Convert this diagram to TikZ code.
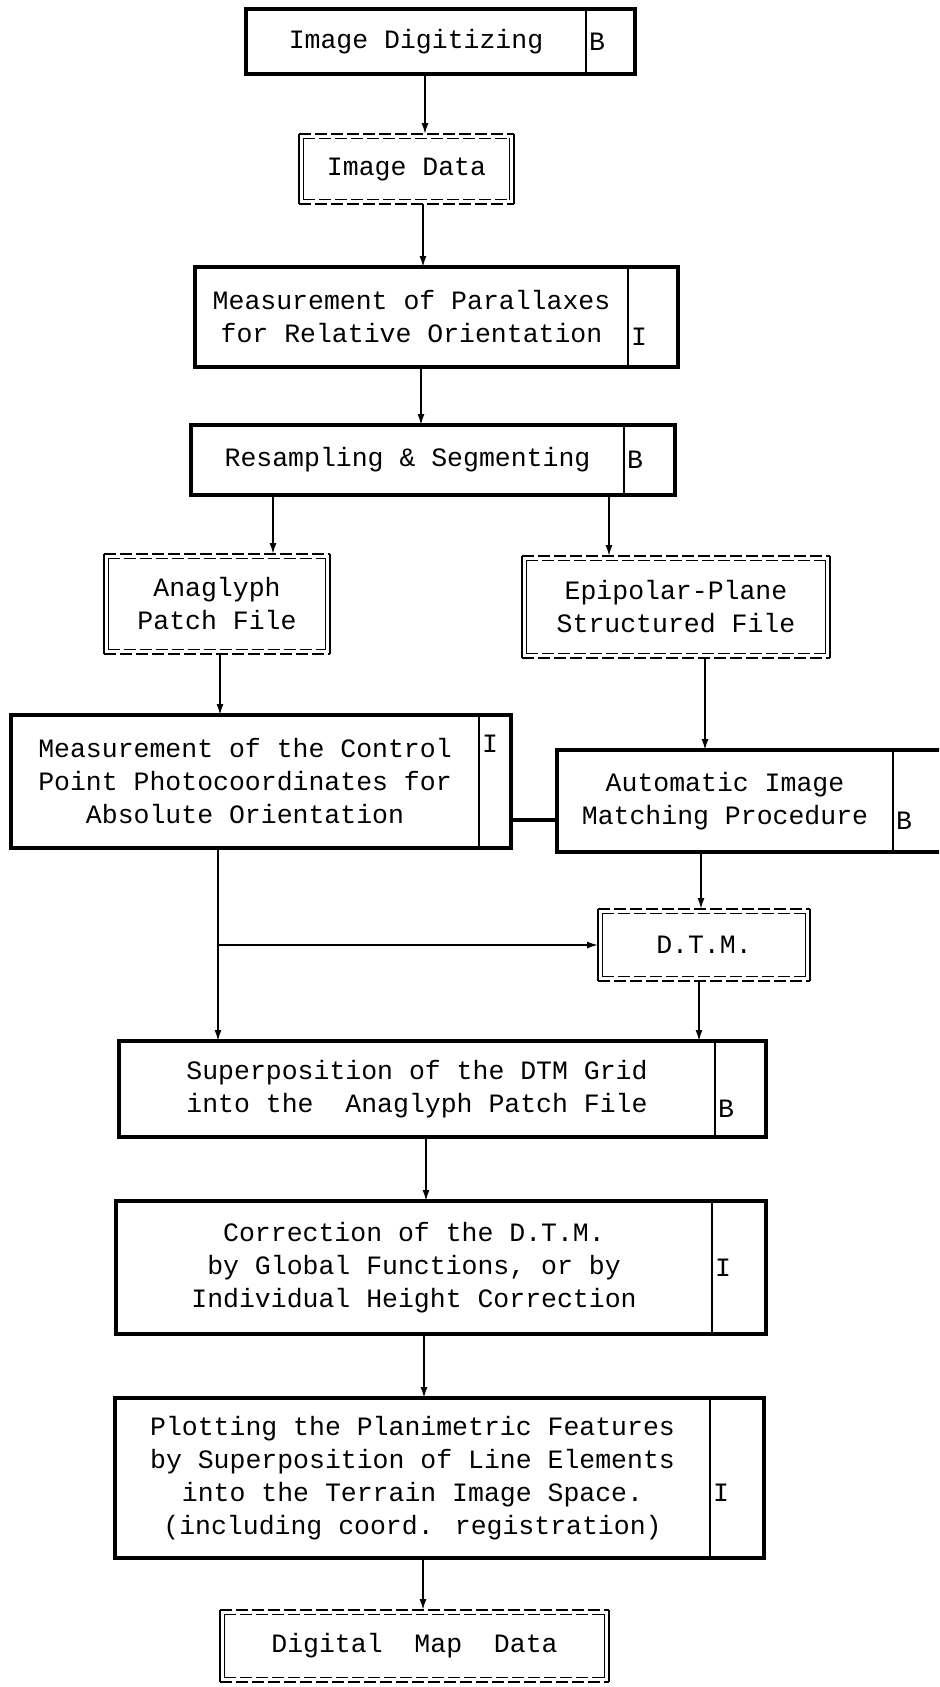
\documentclass[tikz,border=0pt]{standalone}
\usepackage{fontspec}
\setmainfont{Liberation Mono}
\usetikzlibrary{positioning,arrows.meta}
\tikzset{
	every node/.style={font=\fontsize{13.25pt}{16.5pt}\selectfont},
	procbox/.style={rectangle, align=center, inner sep=0pt, outer sep=0pt},
	tagbox/.style={rectangle, align=left, inner xsep=1.5pt, inner ysep=0pt, outer sep=0pt},
	filebox/.style={rectangle, align=center, inner sep=0pt, outer sep=0pt},
	frameline/.style={line width=1.7pt},
	divline/.style={line width=0.8pt},
	fileline/.style={line width=0.7pt},
	filedash/.style={dash pattern=on 6pt off 2pt},
	arr/.style={line width=0.8pt, -{Latex[length=5.5pt,width=3.5pt]}},
	joinline/.style={line width=1.8pt}
}
\newcommand{\procframe}[2]{%
	\draw[frameline] (#1.north west) rectangle (#2.south east);
	\draw[divline] (#2.north west) -- (#2.south west);
}
\newcommand{\fileframe}[1]{%
	\draw[fileline] (#1.north west) -- (#1.south west);
	\draw[fileline] (#1.north east) -- (#1.south east);
	\draw[fileline] ([shift={(2.2pt,-2.2pt)}]#1.north west) -- ([shift={(2.2pt,2.2pt)}]#1.south west);
	\draw[fileline] ([shift={(-2.2pt,-2.2pt)}]#1.north east) -- ([shift={(-2.2pt,2.2pt)}]#1.south east);
	\draw[fileline, filedash] (#1.north west) -- (#1.north east);
	\draw[fileline, filedash] ([shift={(2.2pt,-2.2pt)}]#1.north west) -- ([shift={(-2.2pt,-2.2pt)}]#1.north east);
	\draw[fileline, filedash] (#1.south west) -- (#1.south east);
	\draw[fileline, filedash] ([shift={(2.2pt,2.2pt)}]#1.south west) -- ([shift={(-2.2pt,2.2pt)}]#1.south east);
}

\begin{document}
\begin{tikzpicture}[x=0.5pt, y=0.5pt]
		\useasboundingbox (0, 0) rectangle (939, -1687);
		\clip (0, 0) rectangle (939, -1687);
		\node(dig)[procbox, minimum width=170pt, minimum height=32.5pt] at (416, -41.5) {Image Digitizing};
		\node(digtag)[tagbox, text width=21.5pt, minimum height=32.5pt, right=0pt of dig] {B};
		\node(imgdata)[filebox, minimum width=107.5pt, minimum height=35pt] at (406.5, -169) {Image Data};
		\node(para)[procbox, minimum width=216.5pt, minimum height=50pt] at (411.5, -317) {Measurement of Parallaxes\\for Relative Orientation};
		\node(paratag)[tagbox, text width=22pt, minimum height=50pt, right=0pt of para] {\strut\\I};
		\node(res)[procbox, minimum width=216.5pt, minimum height=35pt] at (407.5, -460) {Resampling \& Segmenting};
		\node(restag)[tagbox, text width=22.5pt, minimum height=35pt, right=0pt of res] {B};
		\node(anag)[filebox, minimum width=113pt, minimum height=50pt] at (217, -604) {Anaglyph\\Patch File};
		\node(epi)[filebox, minimum width=154pt, minimum height=51pt] at (676, -607) {Epipolar-Plane\\Structured File};
		\node(ctrl)[procbox, minimum width=234pt, minimum height=66.5pt] at (245, -781.5) {Measurement of the Control\\Point Photocoordinates for\\Absolute Orientation};
		\node(ctrltag)[tagbox, text width=13pt, minimum height=66.5pt, right=0pt of ctrl] {I\\\strut\\\strut};
		\node(auto)[procbox, minimum width=168pt, minimum height=51pt] at (725, -801) {Automatic Image\\Matching Procedure};
		\node(autotag)[tagbox, text width=27pt, minimum height=51pt, right=0pt of auto] {\strut\\B};
		\node(dtm)[filebox, minimum width=106pt, minimum height=36pt] at (704, -945) {D.T.M.};
		\node(sup)[procbox, minimum width=298pt, minimum height=48pt] at (417, -1089) {Superposition of the DTM Grid\\into the~~Anaglyph Patch File};
		\node(suptag)[tagbox, text width=22.5pt, minimum height=48pt, right=0pt of sup] {\strut\\B};
		\node(corr)[procbox, minimum width=298pt, minimum height=66.5pt] at (414, -1267.5) {Correction of the D.T.M.\\by Global Functions, or by\\Individual Height Correction};
		\node(corrtag)[tagbox, text width=24pt, minimum height=66.5pt, right=0pt of corr] {I};
		\node(plot)[procbox, minimum width=297.5pt, minimum height=80pt] at (412.5, -1478) {Plotting the Planimetric Features\\by Superposition of Line Elements\\into the Terrain Image Space.\\(including coord. registration)};
		\node(plottag)[tagbox, text width=24pt, minimum height=80pt, right=0pt of plot] {\strut\\\strut\\I\\\strut};
		\node(map)[filebox, minimum width=194.5pt, minimum height=36pt] at (414.5, -1646) {Digital~~Map~~Data};
		\coordinate(br) at (218, -945);
		\procframe{dig}{digtag}
		\procframe{para}{paratag}
		\procframe{res}{restag}
		\procframe{ctrl}{ctrltag}
		\procframe{auto}{autotag}
		\procframe{sup}{suptag}
		\procframe{corr}{corrtag}
		\procframe{plot}{plottag}
		\fileframe{imgdata}
		\fileframe{anag}
		\fileframe{epi}
		\fileframe{dtm}
		\fileframe{map}
		\draw[arr] ([xshift=4.5pt]dig.south) -- ([xshift=9.25pt]imgdata.north);
		\draw[arr] ([xshift=8.25pt]imgdata.south) -- ([xshift=5.75pt]para.north);
		\draw[arr] ([xshift=4.75pt]para.south) -- ([xshift=6.75pt]res.north);
		\draw[arr] ([xshift=-67.25pt]res.south) -- ([xshift=28pt]anag.north);
		\draw[arr] ([xshift=100.75pt]res.south) -- ([xshift=-33.5pt]epi.north);
		\draw[arr] ([xshift=1.5pt]anag.south) -- ([xshift=-12.5pt]ctrl.north);
		\draw[arr] ([xshift=14.5pt]epi.south) -- ([xshift=-10pt]auto.north);
		\draw[joinline] ([yshift=-19.25pt]ctrltag.east) -- ([yshift=-9.5pt]auto.west);
		\draw[arr] ([xshift=-12pt]auto.south) -- ([xshift=-1.5pt]dtm.north);
		\draw[arr] ([xshift=-13.5pt]ctrl.south) -- ([xshift=-99.5pt]sup.north);
		\draw[arr] (br) -- (dtm.west);
		\draw[arr] ([xshift=-2.5pt]dtm.south) -- ([xshift=141pt]sup.north);
		\draw[arr] ([xshift=4.5pt]sup.south) -- ([xshift=6pt]corr.north);
		\draw[arr] ([xshift=5pt]corr.south) -- ([xshift=5.75pt]plot.north);
		\draw[arr] ([xshift=5.25pt]plot.south) -- ([xshift=4.25pt]map.north);
\end{tikzpicture}
\end{document}
